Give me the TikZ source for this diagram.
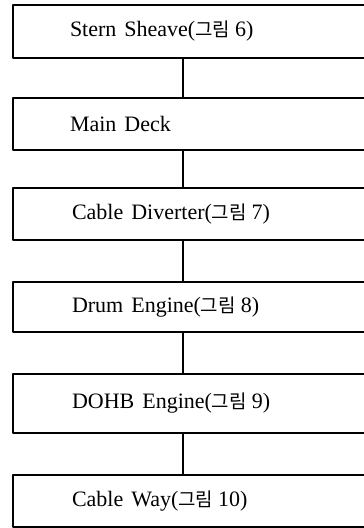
\documentclass[tikz,border=0pt]{standalone}
\usepackage{fontspec}
\setmainfont{Liberation Serif}
\newfontfamily\kr[Scale=0.86]{Noto Sans CJK KR}
\newcommand{\grim}[1]{({\kr 그림}\hspace{5pt}#1)}
\newcommand{\gap}{\hspace{8pt}}
\tikzset{stagebox/.style={draw,line width=1.1pt,anchor=north west,minimum width=367pt,
  text width=367pt,align=left,inner xsep=0pt,outer sep=0pt,
  font=\fontsize{22}{24}\selectfont}}
\begin{document}
\begin{tikzpicture}[x=1pt,y=-1pt,line join=round,line cap=round]
\useasboundingbox (0,0) rectangle (364,528);
\clip (0,0) rectangle (364,528);
\coordinate (axis) at (183,0);
\node[stagebox,minimum height=53pt] (stern) at (13,5) {\hspace*{57pt}\raisebox{-3pt}{Stern\gap Sheave\grim{6}}};
\node[stagebox,minimum height=52pt] (deck) at (13,98) {\hspace*{57pt}\raisebox{-2pt}{Main\gap Deck}};
\node[stagebox,minimum height=52pt] (diverter) at (13,188) {\hspace*{59pt}\raisebox{-2pt}{Cable\gap Diverter\grim{7}}};
\node[stagebox,minimum height=50pt] (drum) at (13,282) {\hspace*{59pt}\raisebox{-2pt}{Drum\gap Engine\grim{8}}};
\node[stagebox,minimum height=59pt] (dohb) at (13,374) {\hspace*{59pt}\raisebox{-2pt}{DOHB\gap Engine\grim{9}}};
\node[stagebox,minimum height=52pt] (way) at (13,475) {\hspace*{59pt}\raisebox{-2pt}{Cable\gap Way\grim{10}}};
\foreach \a/\b in {stern/deck,deck/diverter,diverter/drum,drum/dohb,dohb/way}
  {\draw[line width=1.1pt] (\a.south -| axis) -- (\b.north -| axis);}
\end{tikzpicture}
\end{document}
